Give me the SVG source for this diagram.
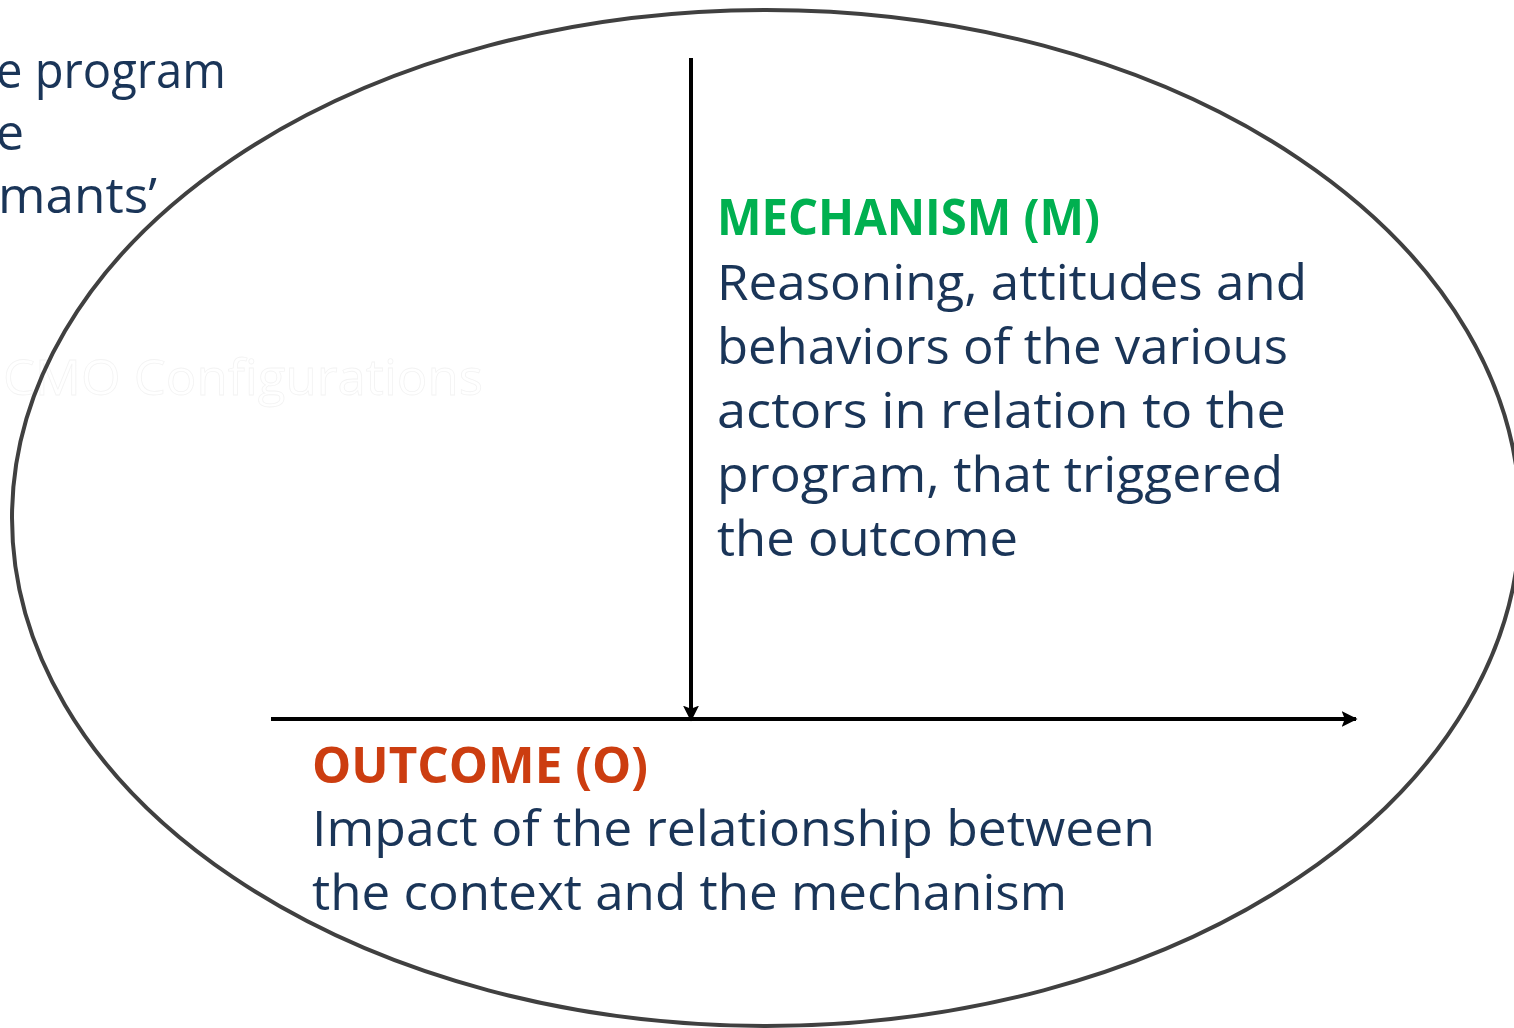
<svg xmlns="http://www.w3.org/2000/svg" width="1514" height="1028" viewBox="0 0 1514 1028">
<style>
text{font-family:"Open Sans","Liberation Sans",sans-serif;font-size:50px;}
.body{fill:#1a3558;}
.m{fill:#00b050;font-weight:bold;}
.o{fill:#cc3d10;font-weight:bold;}
.ghost{fill:#ffffff;stroke:#f3f3f3;stroke-width:0.8;}
</style>
<defs>
<marker id="ah" viewBox="0 0 10 10" refX="9" refY="5" markerWidth="4" markerHeight="4" orient="auto" markerUnits="strokeWidth">
<path d="M0,0 L10,5 L0,10 L2,5 Z" fill="#000"/>
</marker>
</defs>
<g id="left-text">
<text class="body" x="-4" y="88" textLength="230" lengthAdjust="spacingAndGlyphs">e program</text>
<text class="body" x="-4" y="150">e</text>
<text class="body" x="-2" y="213" textLength="159" lengthAdjust="spacingAndGlyphs">mants’</text>
</g>
<g id="ghost-title"><text class="ghost" x="3" y="395" textLength="480" lengthAdjust="spacingAndGlyphs">CMO Configurations</text></g>
<g id="ellipse"><ellipse cx="766" cy="518" rx="754" ry="508" fill="none" stroke="#404040" stroke-width="4"/></g>
<g id="connectors">
<line x1="691" y1="58" x2="691" y2="720" stroke="#000" stroke-width="4" marker-end="url(#ah)"/>
<line x1="271" y1="719" x2="1356" y2="719" stroke="#000" stroke-width="4" marker-end="url(#ah)"/>
</g>
<g id="mechanism">
<text class="m" x="717" y="235" textLength="383" lengthAdjust="spacingAndGlyphs">MECHANISM (M)</text>
<text class="body" x="717" y="300" textLength="590" lengthAdjust="spacingAndGlyphs">Reasoning, attitudes and</text>
<text class="body" x="717" y="364" textLength="571" lengthAdjust="spacingAndGlyphs">behaviors of the various</text>
<text class="body" x="717" y="428" textLength="569" lengthAdjust="spacingAndGlyphs">actors in relation to the</text>
<text class="body" x="717" y="492" textLength="566" lengthAdjust="spacingAndGlyphs">program, that triggered</text>
<text class="body" x="717" y="556" textLength="301" lengthAdjust="spacingAndGlyphs">the outcome</text>
</g>
<g id="outcome">
<text class="o" x="312" y="783" textLength="336" lengthAdjust="spacingAndGlyphs">OUTCOME (O)</text>
<text class="body" x="312" y="846" textLength="843" lengthAdjust="spacingAndGlyphs">Impact of the relationship between</text>
<text class="body" x="312" y="910" textLength="755" lengthAdjust="spacingAndGlyphs">the context and the mechanism</text>
</g>
</svg>
